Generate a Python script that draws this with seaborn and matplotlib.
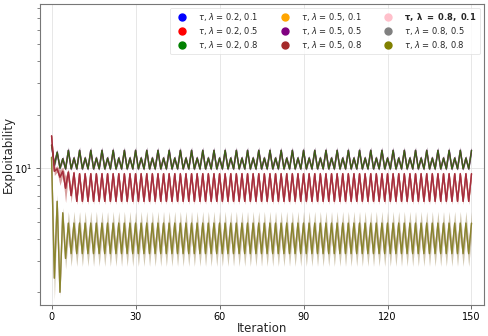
import matplotlib
matplotlib.use("Agg")
import matplotlib.pyplot as plt
import seaborn as sns
from matplotlib.lines import Line2D

# x values
iterations = list(range(151))

# tau = 0.2 (blue / red / green overlap, green on top)
tau02_start = [13.5, 10.4, 12.3, 10.0, 11.3]
tau02_cycle = [9.9, 12.6, 9.9, 11.4]
tau02_std_start = [0.5, 0.4, 0.5, 0.2, 0.4]
tau02_std_cycle = [0.2, 0.6, 0.2, 0.4]

# tau = 0.5 (orange / purple / brown overlap, brown on top)
tau05_start = [15.2, 9.6, 9.9, 8.9, 9.6, 7.7, 9.5, 7.0, 9.4]
tau05_cycle = [6.5, 9.3]
tau05_std_start = [0.4, 0.5, 0.4, 0.9, 0.5, 1.3, 0.4, 0.6, 0.3]
tau05_std_cycle = [0.25, 0.25]

# tau = 0.8 (pink / gray / olive overlap, olive on top)
tau08_start = [11.5, 2.4, 6.5, 2.0, 5.6, 3.1]
tau08_cycle = [4.9, 3.3]
tau08_std_start = [0.6, 0.6, 0.6, 0.1, 0.4, 0.4]
tau08_std_cycle = [0.8, 0.5]

taus = ["0.2", "0.5", "0.8"]
lambdas = ["0.1", "0.5", "0.8"]
colors = ["blue", "red", "green", "orange", "purple", "brown", "pink", "gray", "olive"]


def build(start, cycle, n=151):
    vals = list(start)
    while len(vals) < n:
        vals += cycle
    return vals[:n]


groups = {
    "0.2": (build(tau02_start, tau02_cycle), build(tau02_std_start, tau02_std_cycle)),
    "0.5": (build(tau05_start, tau05_cycle), build(tau05_std_start, tau05_std_cycle)),
    "0.8": (build(tau08_start, tau08_cycle), build(tau08_std_start, tau08_std_cycle)),
}

sns.set_style("ticks")
fig, ax = plt.subplots(figsize=(4.88, 3.36), dpi=100)
fig.subplots_adjust(left=0.081, right=0.992, top=0.988, bottom=0.093)

handles = []
labels = []
k = 0
for t in taus:
    mean, std = groups[t]
    lo = [m - s for m, s in zip(mean, std)]
    hi = [m + s for m, s in zip(mean, std)]
    for l in lambdas:
        c = colors[k]
        sns.lineplot(x=iterations, y=mean, color=c, lw=1.0, alpha=0.7, ax=ax)
        ax.fill_between(iterations, lo, hi, color=c, alpha=0.2, lw=0)
        handles.append(Line2D([], [], marker="o", ls="", color=c, markersize=5))
        if t == "0.8" and l == "0.1":
            labels.append(r"$\mathbf{\tau,\ \lambda\ =\ %s,\ %s}$" % (t, l))
        else:
            labels.append(r"$\tau$, $\lambda$ = %s, %s" % (t, l))
        k += 1

ax.set_yscale("log")
ax.set_ylim(1.7, 84)
ax.set_xlim(-4.3, 154.5)
ax.set_xticks([0, 30, 60, 90, 120, 150])
ax.grid(True, which="major", color="#e3e3e3", lw=0.6)
ax.set_xlabel("Iteration", fontsize=8.5, labelpad=0)
ax.set_ylabel("Exploitability", fontsize=8.5)
ax.yaxis.set_label_coords(-0.056, 0.5)
ax.tick_params(labelsize=7, colors="#555555", labelcolor="black", length=3, width=0.6, pad=2)
ax.tick_params(which="minor", colors="#555555", length=2, width=0.5)
for sp in ax.spines.values():
    sp.set_color("#777777")
    sp.set_linewidth(0.8)

leg = ax.legend(handles, labels, ncol=3, loc="upper right", fontsize=6,
                frameon=True, edgecolor="#dddddd", borderpad=0.4,
                handletextpad=0.9, columnspacing=2.2, labelspacing=0.25,
                borderaxespad=0, bbox_to_anchor=(0.99, 0.988))
leg.get_frame().set_linewidth(0.6)

fig.savefig("out.png", dpi=100)
